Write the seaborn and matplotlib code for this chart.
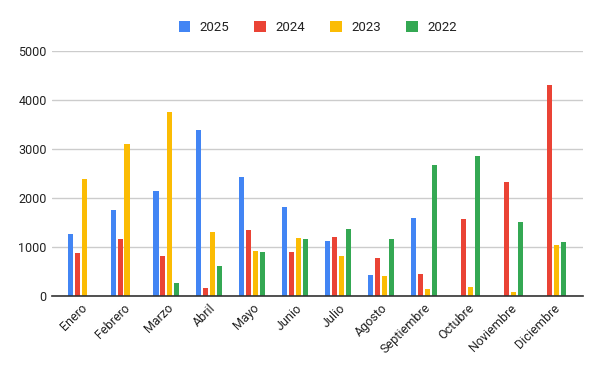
import numpy as np
import pandas as pd
import seaborn as sns
import matplotlib.pyplot as plt

meses = ["Enero", "Febrero", "Marzo", "Abril", "Mayo", "Junio", "Julio",
         "Agosto", "Septiembre", "Octubre", "Noviembre", "Diciembre"]
anios = ["2025", "2024", "2023", "2022"]

# valores (0 = sin dato)
v2025 = [1265, 1755, 2143, 3388, 2429, 1816, 1122, 429, 1592, 0, 0, 0]
v2024 = [878, 1163, 816, 163, 1347, 898, 1204, 776, 449, 1571, 2327, 4306]
v2023 = [2388, 3102, 3762, 1306, 918, 1184, 816, 408, 143, 184, 82, 1041]
v2022 = [0, 0, 265, 612, 898, 1163, 1367, 1163, 2673, 2857, 1510, 1102]

colores = ["#4285F4", "#EA4335", "#FBBC04", "#34A853"]

df = pd.DataFrame({
    "mes": meses * 4,
    "anio": np.repeat(anios, len(meses)),
    "valor": v2025 + v2024 + v2023 + v2022,
})

sns.set_style("white")
plt.rcParams["font.family"] = ["Roboto", "DejaVu Sans"]

fig = plt.figure(figsize=(6, 3.71), dpi=100)
ax = fig.add_axes([0.087, 0.202, 0.885, 0.66])

sns.barplot(data=df, x="mes", y="valor", hue="anio", hue_order=anios,
            palette=colores, width=0.65, gap=0.28, ax=ax, saturation=1,
            linewidth=0)

ax.set_ylim(0, 5000)
ax.set_xlim(-0.66, 11.7)
ax.set_yticks([0, 1000, 2000, 3000, 4000, 5000])
ax.yaxis.grid(True, color="#cccccc", linewidth=1)
ax.set_axisbelow(True)
for s in ["top", "right", "left"]:
    ax.spines[s].set_visible(False)
ax.spines["bottom"].set_color("#333333")
ax.spines["bottom"].set_linewidth(1.2)
ax.set_xlabel("")
ax.set_ylabel("")
ax.tick_params(axis="both", length=0, labelsize=9, colors="#222222", pad=4)
plt.setp(ax.get_xticklabels(), rotation=45, ha="right", rotation_mode="anchor")

ax.legend(loc="lower center", bbox_to_anchor=(0.5, 1.02), ncol=4, frameon=False,
          fontsize=9.5, handlelength=0.9, handleheight=0.9, columnspacing=1.9,
          handletextpad=0.7, labelcolor="#222222")

fig.savefig("out.png", dpi=100)
